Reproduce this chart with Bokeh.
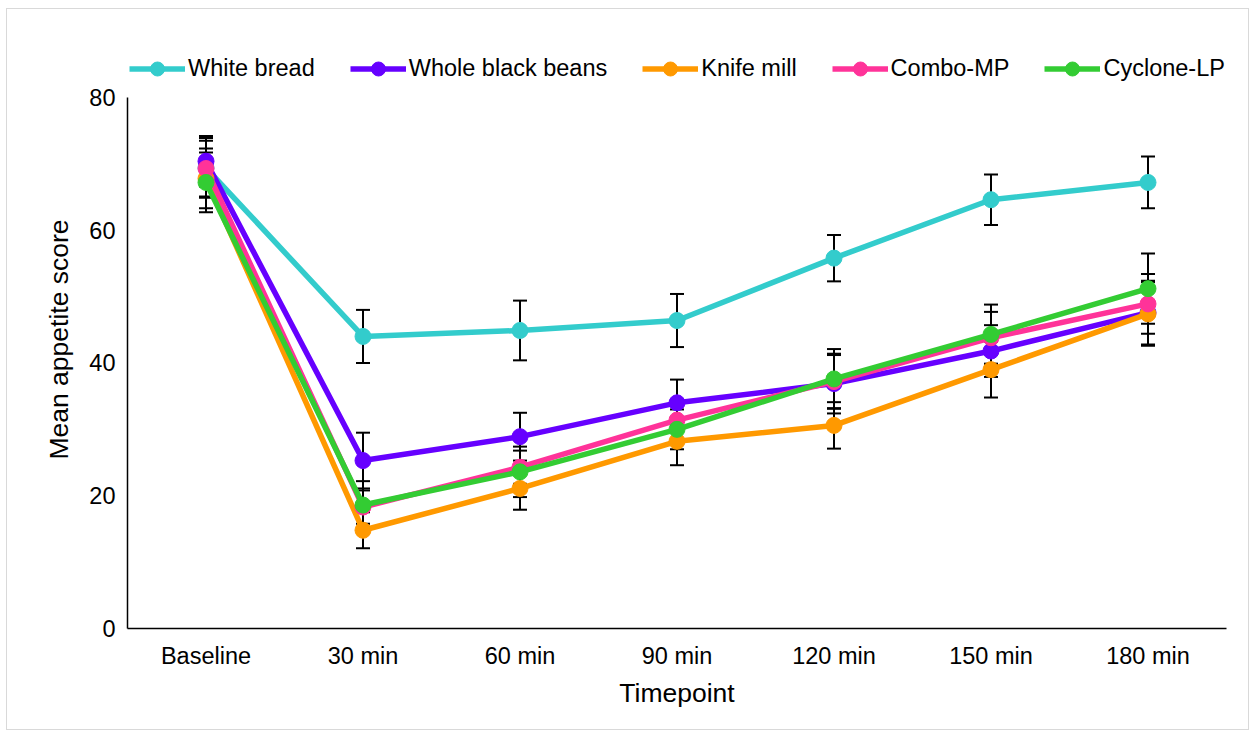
from bokeh.plotting import figure
from bokeh.models import ColumnDataSource, FactorRange, Whisker, TeeHead, Legend, LegendItem
from bokeh.embed import file_html
from bokeh.resources import INLINE

timepoints = ["Baseline", "30 min", "60 min", "90 min", "120 min", "150 min", "180 min"]
series_names = ["White bread", "Whole black beans", "Knife mill", "Combo-MP", "Cyclone-LP"]
white_bread = [69.4, 44.0, 44.9, 46.4, 55.8, 64.6, 67.2]
white_bread_err = [4.5, 4.0, 4.5, 4.0, 3.5, 3.8, 3.9]
black_beans = [70.4, 25.3, 28.9, 34.0, 36.9, 41.8, 47.6]
black_beans_err = [3.8, 4.2, 3.6, 3.5, 4.5, 3.9, 4.8]
knife_mill = [67.8, 14.8, 21.1, 28.2, 30.6, 39.0, 47.4]
knife_mill_err = [4.5, 2.7, 3.2, 3.6, 3.5, 4.2, 4.8]
combo_mp = [69.3, 18.3, 24.3, 31.4, 37.2, 43.8, 48.9]
combo_mp_err = [4.2, 2.5, 2.5, 3.0, 4.0, 3.9, 4.5]
cyclone_lp = [67.2, 18.6, 23.6, 30.0, 37.6, 44.3, 51.2]
cyclone_lp_err = [4.5, 3.6, 3.8, 3.0, 4.5, 4.5, 5.3]
y_ticks = [0, 20, 40, 60, 80]
colors = ["#33CCCC", "#6600FF", "#FF9900", "#FF3399", "#33CC33"]

values = [white_bread, black_beans, knife_mill, combo_mp, cyclone_lp]
errors = [white_bread_err, black_beans_err, knife_mill_err, combo_mp_err, cyclone_lp_err]

FONT = "Liberation Sans"
LINE_W = 5.5
MARKER = 16

# frame extends above 80 to hold the legend; the axis line itself stops at 80
p = figure(x_range=FactorRange(factors=timepoints, range_padding=0), y_range=(0, 87.08),
           width=1243, height=722, output_backend="svg", toolbar_location=None,
           min_border_left=120, min_border_right=24, min_border_top=41, min_border_bottom=103)
p.styles = {"border": "1px solid #d9d9d9", "margin-left": "6px", "margin-top": "8px"}
p.outline_line_color = None
p.xgrid.grid_line_color = None
p.ygrid.grid_line_color = None

sources = []
for vals, errs in zip(values, errors):
    src = ColumnDataSource(dict(x=timepoints, y=vals,
                                upper=[v + e for v, e in zip(vals, errs)],
                                lower=[v - e for v, e in zip(vals, errs)]))
    sources.append(src)
    w = Whisker(source=src, base="x", upper="upper", lower="lower",
                line_color="black", line_width=2,
                upper_head=TeeHead(size=14, line_width=2, line_color="black"),
                lower_head=TeeHead(size=14, line_width=2, line_color="black"))
    p.add_layout(w)

items = []
for name, src, col in zip(series_names, sources, colors):
    lr = p.line("x", "y", source=src, line_color=col, line_width=LINE_W)
    cr = p.scatter("x", "y", source=src, size=MARKER, fill_color=col, line_color=col)
    items.append(LegendItem(label=name, renderers=[lr, cr]))

legend = Legend(items=items, orientation="horizontal", location=(2, 542),
                label_text_font=FONT, label_text_font_size="23.5px", label_text_color="black",
                glyph_width=56, glyph_height=35, label_standoff=3, spacing=35,
                padding=0, margin=0, border_line_color=None, background_fill_alpha=0)
p.add_layout(legend, "center")

p.yaxis.ticker = y_ticks
p.yaxis.bounds = (y_ticks[0], y_ticks[-1])
for ax in (p.xaxis[0], p.yaxis[0]):
    ax.axis_line_color = "black"
    ax.axis_line_width = 1.5
    ax.major_tick_line_color = None
    ax.minor_tick_line_color = None
    ax.major_tick_in = 0
    ax.major_tick_out = 0
    ax.major_label_text_font = FONT
    ax.major_label_text_font_size = "23.5px"
    ax.major_label_text_color = "black"
    ax.axis_label_text_font = FONT
    ax.axis_label_text_font_size = "26.5px"
    ax.axis_label_text_font_style = "normal"
    ax.axis_label_text_color = "black"

p.xaxis.axis_label = "Timepoint"
p.yaxis.axis_label = "Mean appetite score"
p.xaxis.major_label_standoff = 14
p.yaxis.major_label_standoff = 12
p.xaxis.axis_label_standoff = 6
p.yaxis.axis_label_standoff = 12

open("out.html", "w").write(file_html(p, INLINE))
